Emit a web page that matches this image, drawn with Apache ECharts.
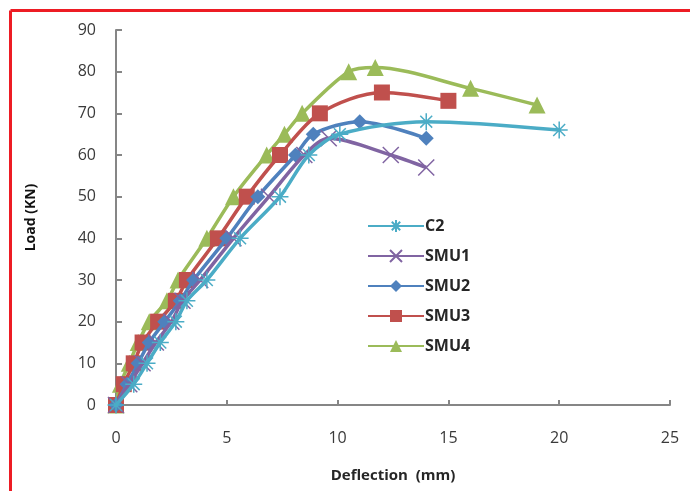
<!DOCTYPE html>
<html>
<head>
<meta charset="utf-8">
<script src="https://cdn.jsdelivr.net/npm/echarts@6/dist/echarts.min.js"></script>
<style>
html,body{margin:0;padding:0;background:#fff;}
#c{width:690px;height:491px;}
</style>
</head>
<body>
<div id="c"></div>
<script>
const xTicks = [0, 5, 10, 15, 20, 25];
const yTicks = [0, 10, 20, 30, 40, 50, 60, 70, 80, 90];
const seriesNames = ['C2', 'SMU1', 'SMU2', 'SMU3', 'SMU4'];
const C2 = [[0,0],[0.8,5],[1.4,10],[2.0,15],[2.7,20],[3.2,25],[4.1,30],[5.6,40],[7.4,50],[8.7,60],[10.1,65],[14,68],[20,66]];
const SMU1 = [[0,0],[0.6,5],[1.2,10],[1.8,15],[2.5,20],[3.0,25],[3.8,30],[5.3,40],[6.9,50],[8.5,60],[9.6,64],[12.4,60],[14,57]];
const SMU2 = [[0,0],[0.5,5],[1.0,10],[1.5,15],[2.2,20],[2.9,25],[3.5,30],[5.0,40],[6.4,50],[8.1,60],[8.9,65],[11,68],[14,64]];
const SMU3 = [[0,0],[0.35,5],[0.8,10],[1.2,15],[1.9,20],[2.7,25],[3.2,30],[4.6,40],[5.9,50],[7.4,60],[9.2,70],[12,75],[15,73]];
const SMU4 = [[0,0],[0.2,5],[0.6,10],[1.0,15],[1.5,20],[2.3,25],[2.8,30],[4.1,40],[5.3,50],[6.8,60],[7.6,65],[8.4,70],[10.5,80],[11.7,81],[16,76],[19,72]];

const dataSets = [C2, SMU1, SMU2, SMU3, SMU4];
const colors = ['#4bacc6', '#8064a2', '#4f81bd', '#c0504d', '#9bbb59'];
const symbols = [
  'path://M5,0L5,10M0,5L10,5M1.5,1.5L8.5,8.5M8.5,1.5L1.5,8.5',
  'path://M0,0L10,10M10,0L0,10',
  'diamond',
  'rect',
  'triangle'
];
const sizes = [17, 16, 15, 16, 17];

const chart = echarts.init(document.getElementById('c'));
const txt = '#3a3a3a';
const fontFam = '"Open Sans", "Liberation Sans", sans-serif';

const series = seriesNames.map((n, i) => {
  const stroke = i < 2;
  return {
    name: n,
    type: 'line',
    data: dataSets[i],
    smooth: 0.3,
    symbol: symbols[i],
    symbolSize: sizes[i],
    showAllSymbol: true,
    lineStyle: { color: colors[i], width: 3.5 },
    itemStyle: stroke ? { color: 'rgba(0,0,0,0)', borderColor: colors[i], borderWidth: 1.5 } : { color: colors[i], borderWidth: 0 },
    z: 2 + (4 - i)
  };
});

chart.setOption({
  backgroundColor: '#ffffff',
  animation: false,
  grid: { left: 116, right: 20, top: 30, bottom: 86 },
  legend: {
    orient: 'vertical',
    left: 362,
    top: 210,
    itemWidth: 56,
    itemHeight: 15,
    itemGap: 8,
    data: seriesNames,
    textStyle: { color: '#262626', fontSize: 16, lineHeight: 22, fontWeight: 'bold', fontFamily: fontFam, padding: [0, 0, 0, -4] }
  },
  xAxis: {
    type: 'value',
    min: 0, max: 25, interval: 5,
    name: 'Deflection  (mm)',
    nameLocation: 'middle',
    nameGap: 63,
    nameTextStyle: { color: '#262626', fontSize: 15, fontWeight: 'bold', fontFamily: fontFam },
    axisLine: { show: true, onZero: false, lineStyle: { color: '#868686', width: 2 } },
    axisTick: { show: true, inside: true, length: 5, lineStyle: { color: '#868686', width: 2 } },
    axisLabel: { color: txt, fontSize: 16, fontFamily: fontFam, margin: 25,
      formatter: v => xTicks.includes(v) ? String(v) : '' },
    splitLine: { show: false }
  },
  yAxis: {
    type: 'value',
    min: 0, max: 90, interval: 10,
    name: 'Load (KN)',
    nameLocation: 'middle',
    nameGap: 78,
    nameTextStyle: { color: '#111', fontSize: 14, fontWeight: 'bold', fontFamily: fontFam },
    axisLine: { show: true, onZero: false, lineStyle: { color: '#868686', width: 2 } },
    axisTick: { show: true, inside: true, length: 6, lineStyle: { color: '#868686', width: 2 } },
    axisLabel: { color: txt, fontSize: 16, fontFamily: fontFam, margin: 20,
      formatter: v => yTicks.includes(v) ? String(v) : '' },
    splitLine: { show: false }
  },
  graphic: [
    { type: 'line', shape: { x1: 10.5, y1: 10.5, x2: 690, y2: 10.5 }, style: { stroke: '#ed1c24', lineWidth: 3 }, z: 100 },
    { type: 'line', shape: { x1: 10.5, y1: 10.5, x2: 10.5, y2: 491 }, style: { stroke: '#ed1c24', lineWidth: 3 }, z: 100 }
  ],
  series: series
});
</script>
</body>
</html>
